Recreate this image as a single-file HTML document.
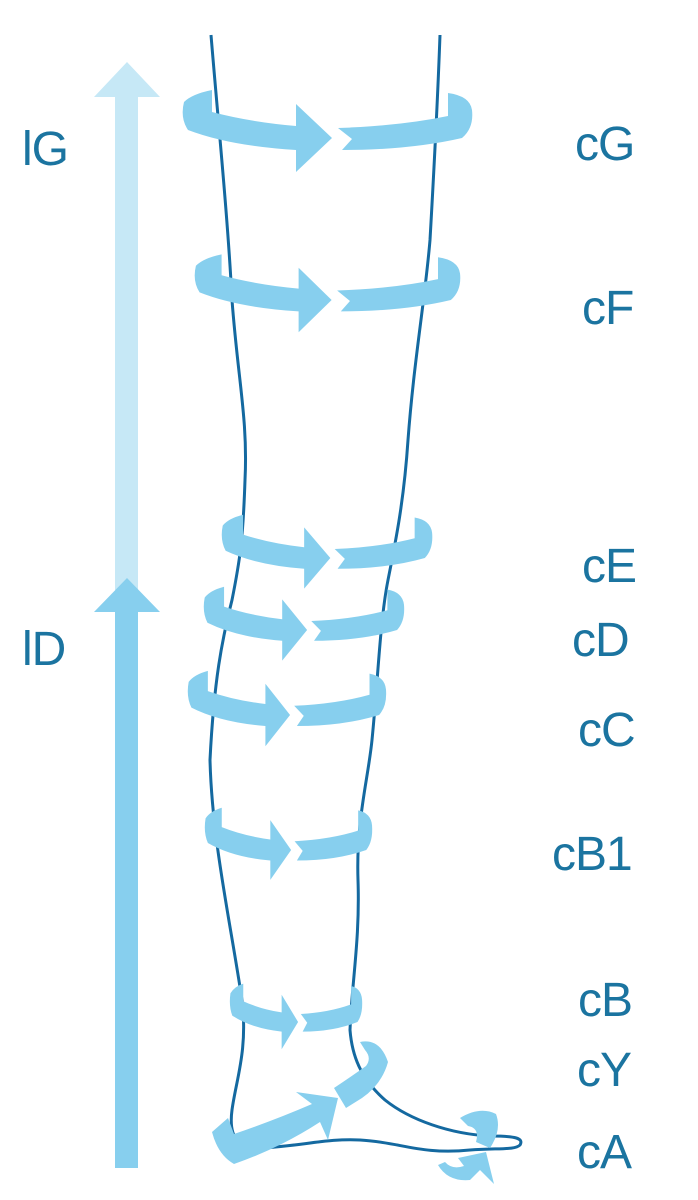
<!DOCTYPE html>
<html><head><meta charset="utf-8"><style>
html,body{margin:0;padding:0;background:#fff;}
svg{display:block;}
text{font-family:"Liberation Sans",sans-serif;font-size:48px;fill:#1b74a0;letter-spacing:-1px;}
</style></head><body>
<svg width="698" height="1200" viewBox="0 0 698 1200" xmlns="http://www.w3.org/2000/svg">
<defs>
<g id="ring">
<path fill="#87cfee" d="M212,90 L212,112 Q250,122 296,126 L296,104 L332,138 L296,172 L296,150 Q230,146 188,130 Q180,118 184,102 Q192,94 212,90 Z"/>
<path fill="#87cfee" d="M338,128 Q400,126 448,116 L448,93 Q470,96 472,110 Q474,128 462,138 Q410,150 342,150 L352,139 Z"/>
</g>
</defs>
<polygon fill="#c6e8f6" points="127,62 160,97 138,97 138,590 115,590 115,97 94,97"/>
<polygon fill="#87cfee" points="127,578 160,612 138,612 138,1168 115,1168 115,612 94,612"/>
<path fill="none" stroke="#1469a0" stroke-width="3" d="M211,35 C218,120 228,220 232,300 C238,380 248,420 245,480 C243,540 240,560 232,600 C222,640 214,680 210,760 C212,840 230,920 242,1000 C248,1050 236,1080 232,1110 C228,1140 240,1148 262,1148 C300,1146 330,1138 360,1140 C400,1142 420,1155 470,1150 C500,1148 515,1150 520,1145 C524,1138 515,1136 490,1136 C450,1134 410,1120 385,1100 C360,1078 352,1055 350,1030 C352,980 360,940 358,880 C356,820 368,780 372,740 C378,680 380,620 388,580 C396,540 404,500 408,440 C414,360 425,300 430,240 C434,170 438,90 440,35"/>
<use href="#ring"/>
<use href="#ring" transform="translate(195,300) scale(0.917,0.95) translate(-183,-138)"/>
<use href="#ring" transform="translate(222,558) scale(0.727,0.9) translate(-183,-138)"/>
<use href="#ring" transform="translate(204,630) scale(0.692,0.9) translate(-183,-138)"/>
<use href="#ring" transform="translate(188,715) scale(0.685,0.92) translate(-183,-138)"/>
<use href="#ring" transform="translate(205,850) scale(0.578,0.88) translate(-183,-138)"/>
<use href="#ring" transform="translate(230,1022) scale(0.457,0.8) translate(-183,-138)"/>
<path fill="#87cfee" d="M212,1132 L228,1118 L234,1134 Q275,1120 312,1104 L296,1092 L338,1098 L328,1140 L320,1122 Q280,1148 234,1164 Q218,1155 212,1132 Z"/>
<path fill="#87cfee" d="M360,1042 Q380,1038 388,1062 Q382,1084 362,1098 L346,1108 L334,1088 Q352,1076 366,1066 Q372,1058 365,1050 Z"/>
<path fill="#87cfee" d="M460,1118 Q480,1106 496,1114 Q502,1130 490,1148 L476,1142 Q480,1128 468,1126 Z"/>
<path fill="#87cfee" d="M438,1165 Q448,1182 470,1180 L480,1170 L494,1184 L486,1152 L458,1158 L464,1166 Q452,1170 445,1162 Z"/>
<text x="22" y="165">lG</text>
<text x="22" y="665">lD</text>
<text x="575" y="160">cG</text>
<text x="582" y="324">cF</text>
<text x="582" y="582">cE</text>
<text x="572" y="656">cD</text>
<text x="578" y="746">cC</text>
<text x="552" y="870">cB1</text>
<text x="578" y="1016">cB</text>
<text x="577" y="1086">cY</text>
<text x="577" y="1168">cA</text>
</svg>
</body></html>
